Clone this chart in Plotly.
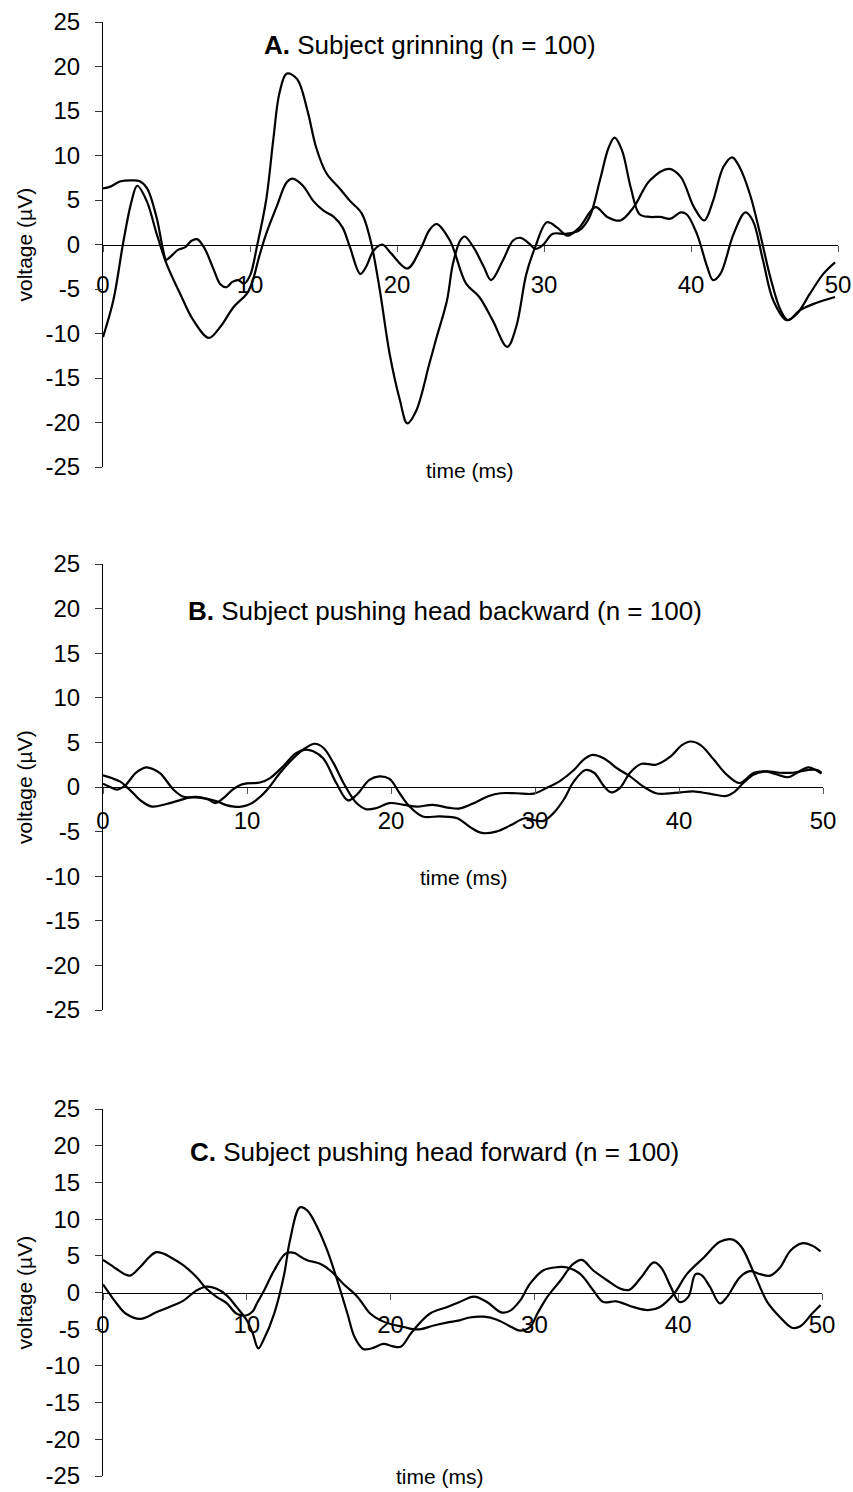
import plotly.graph_objects as go

# ---------------- data (time in ms, voltage in microvolts) ----------------
# Panel A: Subject grinning
a1_time = [0, 0.7, 1.4, 1.95, 2.33, 2.97, 3.65, 4.33, 5.24, 6.14, 7.2, 7.96, 8.9, 9.8, 10.2, 10.6,
           11.1, 11.8, 12.5, 12.9, 13.6, 14.3, 15.0, 15.7, 16.3, 16.8, 17.5, 17.9, 18.4, 19.0, 19.6,
           20.7, 21.6, 22.2, 22.7, 23.6, 24.7, 25.6, 26.5, 27.5, 28.1, 28.8, 29.4, 30.2, 30.9, 31.6,
           32.4, 33.5, 34.3, 35.2, 36.1, 37.2, 38.5, 39.3, 40.2, 40.9, 41.5, 42.2, 42.8, 43.3, 44.0,
           44.7, 45.4, 46.1, 46.6, 47.4, 48.3, 49.8]
a1_volt = [-10.4, -6.3, 0.45, 4.9, 6.6, 4.9, 1.2, -2.2, -5.5, -8.5, -10.5, -9.3, -7.0, -5.5, -4.0, -1.5,
           1.2, 4.2, 7.0, 7.4, 6.6, 4.9, 3.8, 3.1, 1.9, -0.3, -3.3, -2.5, -0.7, 0.0, -1.0,
           -2.7, -0.5, 1.6, 2.3, 0.45, -4.4, -5.9, -8.5, -11.5, -9.3, -3.3, -0.3, 2.5, 1.9, 1.0,
           1.9, 4.2, 3.1, 2.7, 4.2, 7.2, 8.5, 7.6, 4.2, 2.7, 4.9, 8.7, 9.8, 8.7, 5.7,
           1.2, -3.7, -7.4, -8.5, -7.4, -6.7, -5.9]
a2_time = [0, 0.5, 1.2, 2.0, 2.5, 3.0, 3.65, 4.1, 4.3, 4.7, 5.1, 5.6, 6.0, 6.4, 6.9, 7.5, 8.0, 8.4,
           8.8, 9.2, 9.6, 10.0, 10.5, 11.1, 11.6, 12.0, 12.5, 13.2, 13.9, 14.5, 15.2, 16.1, 16.8,
           17.6, 18.2, 18.8, 19.5, 20.2, 20.7, 21.3, 22.2, 22.7, 23.4, 23.8, 24.3, 24.6, 25.2, 25.9,
           26.4, 27.2, 27.9, 28.4, 29.0, 29.4, 29.9, 30.6, 31.5, 32.4, 33.1, 33.8, 34.4, 34.8, 35.3,
           35.9, 36.5, 37.2, 37.9, 38.6, 39.3, 39.7, 40.4, 41.1, 41.5, 42.0, 42.9, 43.7, 44.2, 44.9,
           45.6, 46.5, 47.2, 48.1, 49.0, 49.8]
a2_volt = [6.3, 6.5, 7.1, 7.2, 7.1, 6.3, 3.0, -0.7, -1.7, -1.2, -0.6, -0.3, 0.4, 0.6, -0.4, -2.7, -4.5, -4.8,
           -4.2, -4.0, -4.4, -3.5, 0.0, 5.0, 12.0, 17.0, 19.2, 18.6, 15.1, 10.9, 8.0, 6.3, 4.9,
           3.5, 0.45, -4.8, -12.3, -17.5, -20.1, -18.7, -13.4, -10.4, -6.3, -2.2, 0.45, 0.9, -0.3, -2.5,
           -4.0, -1.8, 0.45, 0.75, 0.1, -0.5, -0.1, 1.2, 1.2, 1.6, 3.1, 7.2, 10.9, 12.0, 10.6,
           6.4, 3.4, 3.1, 3.1, 2.9, 3.6, 3.4, 1.2, -2.5, -4.0, -3.3, 1.2, 3.6, 2.7, -1.8,
           -6.3, -8.5, -7.8, -5.5, -3.3, -2.0]

# Panel B: Subject pushing head backward
b1_time = [0, 0.6, 1.2, 1.6, 2.1, 2.6, 3.4, 4.4, 5.3, 6.0, 6.7, 7.3, 7.8, 8.4, 9.0, 9.5, 10.0, 10.9,
           11.6, 12.5, 13.4, 14.1, 14.6, 15.3, 16.2, 17.0, 17.6, 18.5, 19.2, 19.9, 20.6, 21.3, 22.2,
           23.4, 24.6, 25.5, 26.3, 27.3, 28.3, 29.3, 29.9, 30.6, 31.3, 32.0, 32.7, 33.5, 34.1, 34.8,
           35.3, 35.9, 36.6, 37.4, 38.4, 39.4, 40.2, 40.8, 41.5, 42.4, 43.3, 44.2, 45.2, 46.0, 46.8,
           47.6, 48.2, 49.0, 49.9]
b1_volt = [1.3, 1.0, 0.6, 0.07, -0.7, -1.5, -2.2, -1.9, -1.5, -1.2, -1.2, -1.4, -1.8, -1.2, -0.3, 0.2, 0.4, 0.5,
           1.0, 2.3, 3.8, 4.2, 4.0, 3.2, 0.45, -1.5, -0.9, 0.8, 1.2, 0.9, -0.7, -2.2, -3.3,
           -3.3, -3.5, -4.5, -5.15, -5.0, -4.3, -3.5, -3.7, -3.8, -2.9, -1.4, 0.63, 1.9, 1.6, 0.07,
           -0.6, -0.1, 1.6, 2.6, 2.5, 3.4, 4.7, 5.1, 4.7, 3.1, 1.4, 0.45, 1.6, 1.75, 1.4,
           1.1, 1.6, 2.2, 1.5]
b2_time = [0, 0.5, 0.95, 1.3, 1.6, 2.3, 3.0, 3.5, 4.0, 4.9, 5.6, 6.5, 7.2, 7.9, 8.5, 9.1, 9.6, 10.1,
           10.7, 11.4, 12.3, 13.2, 13.9, 14.7, 15.3, 16.0, 16.7, 17.6, 18.3, 19.0, 19.9, 20.9, 21.8,
           22.9, 24.1, 24.8, 25.9, 26.8, 27.6, 28.7, 29.9, 30.8, 31.7, 32.7, 33.4, 34.0, 34.8, 35.7,
           36.6, 37.5, 38.4, 39.1, 40.1, 41.0, 42.1, 43.3, 43.8, 44.5, 45.2, 46.1, 47.0, 47.9, 48.9,
           49.6, 49.9]
b2_volt = [0.37, 0.0, -0.3, -0.1, 0.26, 1.6, 2.2, 2.0, 1.5, -0.3, -1.1, -1.1, -1.3, -1.6, -2.0, -2.2, -2.2, -2.0,
           -1.4, -0.3, 1.6, 3.2, 4.2, 4.85, 4.4, 2.7, 0.45, -1.8, -2.5, -2.35, -1.8, -2.0, -2.2,
           -2.0, -2.35, -2.4, -1.7, -1.0, -0.7, -0.7, -0.75, -0.1, 0.63, 1.9, 3.1, 3.6, 3.2, 2.1,
           1.2, 0.07, -0.7, -0.75, -0.6, -0.5, -0.75, -1.0, -0.6, 0.5, 1.4, 1.75, 1.6, 1.6, 1.9,
           1.9, 1.6]

# Panel C: Subject pushing head forward
c1_time = [0, 0.5, 0.95, 1.5, 1.9, 2.6, 3.2, 3.7, 4.2, 4.7, 5.6, 6.5, 7.2, 7.9, 8.6, 9.3, 10.0, 10.4,
           10.7, 11.2, 11.9, 12.7, 13.3, 13.8, 14.2, 15.1, 15.8, 16.7, 17.7, 18.6, 19.3, 20.0, 20.9,
           21.6, 22.1, 23.0, 23.9, 24.8, 25.5, 26.5, 27.4, 28.4, 29.0, 29.7, 30.2, 30.9, 31.8, 32.7,
           33.3, 34.1, 35.1, 36.0, 36.6, 37.4, 38.3, 38.8, 39.5, 40.1, 40.7, 41.2, 41.6, 42.2, 42.9,
           43.4, 44.3, 45.0, 45.7, 46.4, 47.1, 47.8, 48.6, 49.3, 49.9]
c1_volt = [4.45, 3.8, 3.2, 2.5, 2.3, 3.5, 4.8, 5.5, 5.3, 4.8, 3.7, 2.1, 0.5, -0.6, -1.45, -2.9, -3.1, -2.6,
           -1.5, 0.27, 3.0, 5.3, 5.4, 4.8, 4.4, 3.9, 3.0, 1.2, -0.6, -2.9, -3.8, -4.3, -4.7,
           -5.0, -5.0, -4.5, -4.1, -3.8, -3.4, -3.3, -3.7, -4.7, -5.2, -4.7, -2.9, -0.6, 1.6, 3.9,
           4.45, 3.0, 1.6, 0.5, 0.36, 2.0, 4.1, 3.45, 0.7, -1.3, -0.6, 2.5, 2.4, 0.8, -1.5,
           -0.6, 2.1, 2.9, 2.5, 2.3, 3.45, 5.7, 6.7, 6.4, 5.6]
c2_time = [0, 0.5, 0.95, 1.6, 2.6, 3.7, 4.7, 5.6, 6.5, 7.2, 7.9, 8.6, 9.3, 10.0, 10.4, 10.8, 11.2, 11.9,
           12.6, 13.0, 13.7, 14.2, 14.9, 15.6, 16.3, 17.0, 17.5, 18.1, 18.7, 19.5, 20.1, 20.7, 21.4,
           22.1, 22.8, 23.9, 24.8, 25.8, 26.7, 27.7, 28.3, 29.0, 29.7, 30.6, 31.6, 32.3, 33.2, 34.1,
           34.8, 35.7, 36.9, 37.9, 38.7, 39.7, 40.6, 41.8, 42.9, 43.8, 44.4, 45.3, 46.2, 47.1, 47.9,
           48.5, 49.3, 49.9]
c2_volt = [1.1, -0.3, -1.5, -2.9, -3.6, -2.7, -1.9, -1.1, 0.27, 0.8, 0.5, -0.4, -2.0, -3.8, -5.5, -7.6, -6.3, -2.9,
           2.5, 7.1, 11.6, 11.2, 8.9, 5.7, 1.6, -2.9, -6.1, -7.7, -7.6, -7.0, -7.3, -7.4, -5.6,
           -4.0, -2.8, -2.0, -1.3, -0.55, -1.3, -2.7, -2.5, -1.1, 1.2, 3.0, 3.45, 3.4, 2.5, 0.27,
           -1.3, -1.2, -2.0, -2.4, -2.0, -0.2, 2.5, 4.8, 6.9, 7.2, 6.2, 2.5, -1.3, -3.4, -4.8,
           -4.6, -2.9, -1.7]

# axis ticks and labels
x_ticks = [0, 10, 20, 30, 40, 50]
x_tick_labels = ["0", "10", "20", "30", "40", "50"]
y_ticks = [25, 20, 15, 10, 5, 0, -5, -10, -15, -20, -25]
y_tick_labels = ["25", "20", "15", "10", "5", "0", "-5", "-10", "-15", "-20", "-25"]

panel_titles = ["<b>A.</b> Subject grinning (n = 100)",
                "<b>B.</b> Subject pushing head backward (n = 100)",
                "<b>C.</b> Subject pushing head forward (n = 100)"]
x_title = "time (ms)"
y_title = "voltage (\u00b5V)"

# ---------------- layout geometry (pixels in the 853 x 1492 page) ----------------
W, H = 853, 1492
FONT = "Liberation Sans, Arial, sans-serif"


def fx(px):
    return px / W


def fy(py):
    return 1 - py / H


# (x0 px, x50 px, y25 px, y-25 px)
panels = [(103, 838, 22, 467), (103, 823, 564, 1010), (103, 822, 1109, 1476)]
xtick_standoff = [13, 6, 5]
title_pos = [(430, 45), (445, 611), (434, 1152)]
xlabel_pos = [(470, 471), (464, 877), (440, 1476)]

curves = [[(a1_time, a1_volt), (a2_time, a2_volt)],
          [(b1_time, b1_volt), (b2_time, b2_volt)],
          [(c1_time, c1_volt), (c2_time, c2_volt)]]

fig = go.Figure()
annotations = []
for i, (x0, x1, ytop, ybot) in enumerate(panels):
    sfx = "" if i == 0 else str(i + 1)
    for t, v in curves[i]:
        fig.add_trace(go.Scatter(x=t, y=v, mode="lines",
                                 line=dict(color="black", width=2.2, shape="spline", smoothing=1.0),
                                 xaxis="x" + sfx, yaxis="y" + sfx, hoverinfo="skip"))
    zero_py = (ytop + ybot) / 2
    fig.layout["xaxis" + sfx] = dict(
        domain=[fx(x0), fx(x1)], range=[0, 50], anchor="free", position=fy(zero_py),
        showline=True, linecolor="black", linewidth=1, showgrid=False, zeroline=False,
        ticks="outside", ticklen=6, tickcolor="#555555", tickwidth=1, automargin=False,
        tickvals=x_ticks, ticktext=x_tick_labels, ticklabelstandoff=xtick_standoff[i],
        tickfont=dict(family=FONT, size=24, color="black"))
    fig.layout["yaxis" + sfx] = dict(
        domain=[fy(ybot), fy(ytop)], range=[-25, 25], anchor="x" + sfx,
        showline=True, linecolor="black", linewidth=1, showgrid=False, zeroline=False,
        ticks="outside", ticklen=7, tickcolor="#333333", tickwidth=1, automargin=False,
        tickvals=y_ticks, ticktext=y_tick_labels, ticklabelstandoff=10,
        tickfont=dict(family=FONT, size=24, color="black"))
    tx, ty = title_pos[i]
    annotations.append(dict(text=panel_titles[i], x=fx(tx), y=fy(ty), xref="paper", yref="paper",
                            xanchor="center", yanchor="middle", showarrow=False,
                            font=dict(family=FONT, size=26, color="black")))
    lx, ly = xlabel_pos[i]
    annotations.append(dict(text=x_title, x=fx(lx), y=fy(ly), xref="paper", yref="paper",
                            xanchor="center", yanchor="middle", showarrow=False,
                            font=dict(family=FONT, size=21, color="black")))
    annotations.append(dict(text=y_title, x=fx(24), y=fy(zero_py), xref="paper", yref="paper",
                            xanchor="center", yanchor="middle", showarrow=False, textangle=-90,
                            font=dict(family=FONT, size=21, color="black")))

fig.update_layout(width=W, height=H, margin=dict(l=0, r=0, t=0, b=0, pad=0, autoexpand=False),
                  paper_bgcolor="white", plot_bgcolor="white", showlegend=False,
                  annotations=annotations, font=dict(family=FONT, color="black"))

# no mode bar; remove the page's default body margin so the figure fills the window exactly
fig.write_html("out.html", config={"displayModeBar": False, "staticPlot": True},
               post_script="document.body.style.margin='0';")
